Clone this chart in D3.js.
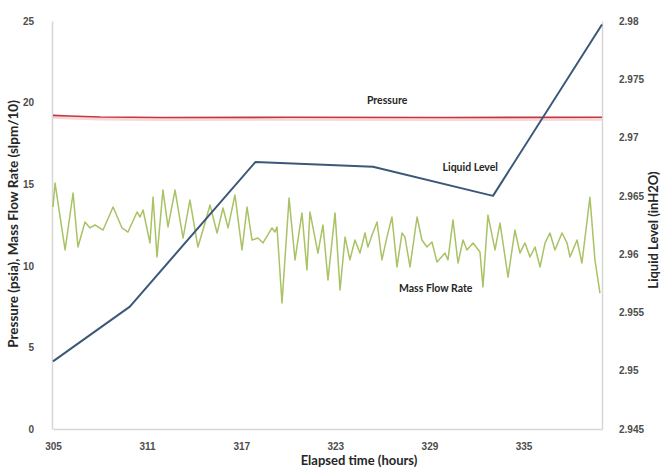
<!DOCTYPE html>
<html>
<head>
<meta charset="utf-8">
<script src="https://cdn.jsdelivr.net/npm/d3@7"></script>
<style>
  html, body { margin: 0; padding: 0; background: #fff; }
  svg { display: block; font-family: Lato, "Open Sans", sans-serif; }
</style>
</head>
<body>
<svg id="chart" width="663" height="468"></svg>
<script>
// Elapsed time (hours) tick labels and axis ranges
const timeTicks = [305, 311, 317, 323, 329, 335];
const timeDomain = [305, 340];
const leftTicks = [0, 5, 10, 15, 20, 25];
const rightTicks = [2.945, 2.95, 2.955, 2.96, 2.965, 2.97, 2.975, 2.98];

// Pressure (psia)
const pressureTime = [305, 306, 308, 312, 320, 330, 340];
const pressure = [19.22, 19.18, 19.12, 19.09, 19.1, 19.09, 19.1];

// Liquid level (inH2O), right axis
const levelTime = [305, 309.9, 317.9, 325.4, 333.05, 340];
const level = [2.9508, 2.9555, 2.9679, 2.9675, 2.965, 2.9797];

// Mass flow rate (slpm/10)
const flowTime = [
  305.00, 305.13, 305.77, 306.28, 306.59, 307.04, 307.36, 307.68, 308.19, 308.83,
  309.40, 309.78, 310.36, 310.55, 310.74, 311.18, 311.38, 311.63, 312.01, 312.33,
  312.78, 313.29, 313.73, 314.24, 314.69, 315.01, 315.46, 315.84, 316.16, 316.60,
  317.05, 317.37, 317.69, 318.07, 318.39, 318.96, 319.15, 319.28, 319.60, 320.05,
  320.43, 320.87, 321.19, 321.38, 321.89, 322.21, 322.53, 322.98, 323.30, 323.62,
  323.93, 324.25, 324.57, 324.89, 325.08, 325.34, 325.66, 325.97, 326.29, 326.61,
  326.93, 327.25, 327.44, 327.76, 328.21, 328.52, 328.84, 329.16, 329.48, 329.99,
  330.18, 330.50, 330.82, 331.14, 331.39, 331.78, 332.22, 332.41, 332.73, 333.18,
  333.50, 334.01, 334.45, 334.77, 335.09, 335.41, 335.73, 336.05, 336.37, 336.68,
  337.00, 337.45, 337.77, 337.96, 338.41, 338.72, 339.23, 339.55, 339.87
];
const flow = [
  13.6, 15.07, 10.97, 14.46, 11.15, 12.68, 12.32, 12.5, 12.19, 13.6,
  12.32, 12.07, 13.3, 12.99, 13.42, 11.4, 14.22, 10.54, 14.64, 12.38,
  14.64, 11.7, 14.03, 11.15, 12.62, 13.73, 12.01, 13.54, 12.32, 14.34,
  10.97, 13.6, 11.58, 11.7, 11.4, 12.32, 12.07, 12.38, 7.72, 14.15,
  10.36, 13.24, 9.74, 13.3, 10.78, 12.5, 9.13, 13.24, 8.52, 11.76,
  10.36, 11.58, 10.78, 12.01, 11.15, 11.89, 12.68, 10.36, 11.76, 12.99,
  9.93, 12.01, 11.76, 9.93, 12.99, 11.58, 11.15, 11.46, 10.23, 10.78,
  10.36, 12.81, 10.17, 11.58, 10.97, 11.4, 10.85, 8.7, 13.11, 10.97,
  12.62, 9.31, 12.19, 10.78, 11.4, 10.54, 11.15, 9.93, 11.4, 12.01,
  10.97, 12.01, 11.4, 10.54, 11.58, 10.17, 14.2, 10.36, 8.33
];

const svg = d3.select("#chart");
const plot = { left: 53, right: 602, top: 21, bottom: 429 };

const x = d3.scaleLinear().domain(timeDomain).range([plot.left, plot.right]);
const yL = d3.scaleLinear().domain([0, 25]).range([plot.bottom, plot.top]);
const yR = d3.scaleLinear().domain([2.945, 2.98]).range([plot.bottom, plot.top]);

const axisColor = "#d6d6d6";
const tickText = "#4d4d4d";

// Axes: thin gray lines, no tick marks
const styleAxis = g => {
  g.select(".domain").attr("stroke", axisColor).attr("stroke-width", 1.5);
  g.selectAll(".tick line").remove();
  g.selectAll(".tick text")
    .attr("fill", tickText)
    .attr("font-size", 10)
    .attr("font-weight", 600);
};

svg.append("g")
  .attr("transform", `translate(0,${plot.bottom})`)
  .call(d3.axisBottom(x).tickValues(timeTicks).tickFormat(d3.format("d")).tickSizeOuter(0).tickPadding(8))
  .call(styleAxis);

svg.append("g")
  .attr("transform", `translate(${plot.left - 1},0)`)
  .call(d3.axisLeft(yL).tickValues(leftTicks).tickSizeOuter(0).tickPadding(12))
  .call(styleAxis);

svg.append("g")
  .attr("transform", `translate(${plot.right},0)`)
  .call(d3.axisRight(yR).tickValues(rightTicks).tickFormat(d => d3.format("")(+d.toFixed(3))).tickSizeOuter(0).tickPadding(11))
  .call(styleAxis);

// Series lines
const flowLine = d3.line().x((d, i) => x(flowTime[i])).y(d => yL(d));
const pressureLine = d3.line().x((d, i) => x(pressureTime[i])).y(d => yL(d));
const levelLine = d3.line().x((d, i) => x(levelTime[i])).y(d => yR(d));

svg.append("path")
  .datum(flow)
  .attr("d", flowLine)
  .attr("fill", "none")
  .attr("stroke", "#a9c264")
  .attr("stroke-width", 1.5)
  .attr("stroke-linejoin", "round");

// soft pink glow under the pressure trace
svg.append("path")
  .datum(pressure)
  .attr("d", pressureLine)
  .attr("transform", "translate(0,2)")
  .attr("fill", "none")
  .attr("stroke", "#f9d6d8")
  .attr("stroke-width", 3);

svg.append("path")
  .datum(pressure)
  .attr("d", pressureLine)
  .attr("fill", "none")
  .attr("stroke", "#c0393f")
  .attr("stroke-width", 1.6);

svg.append("path")
  .datum(level)
  .attr("d", levelLine)
  .attr("fill", "none")
  .attr("stroke", "#3b5878")
  .attr("stroke-width", 2)
  .attr("stroke-linejoin", "round");

// Series labels
const seriesLabels = [
  { text: "Pressure", t: 326.3, v: 20.05 },
  { text: "Liquid Level", t: 331.6, v: 15.95 },
  { text: "Mass Flow Rate", t: 329.4, v: 8.55 }
];
svg.append("g").selectAll("text")
  .data(seriesLabels)
  .join("text")
  .attr("x", d => x(d.t))
  .attr("y", d => yL(d.v))
  .attr("text-anchor", "middle")
  .attr("dominant-baseline", "middle")
  .attr("font-size", 10.5)
  .attr("font-weight", 700)
  .attr("fill", "#262626")
  .text(d => d.text);

// Axis titles
svg.append("text")
  .attr("x", 359)
  .attr("y", 462)
  .attr("text-anchor", "middle")
  .attr("dominant-baseline", "middle")
  .attr("font-size", 13)
  .attr("font-weight", 700)
  .attr("fill", "#262626")
  .text("Elapsed time (hours)");

svg.append("text")
  .attr("transform", "translate(15,224) rotate(-90)")
  .attr("text-anchor", "middle")
  .attr("dominant-baseline", "middle")
  .attr("font-size", 13.5)
  .attr("font-weight", 700)
  .attr("fill", "#262626")
  .text("Pressure (psia), Mass Flow Rate (slpm/10)");

svg.append("text")
  .attr("transform", "translate(655,230) rotate(-90)")
  .attr("text-anchor", "middle")
  .attr("dominant-baseline", "middle")
  .attr("font-size", 13)
  .attr("font-weight", 700)
  .attr("fill", "#262626")
  .text("Liquid Level (inH2O)");
</script>
</body>
</html>
